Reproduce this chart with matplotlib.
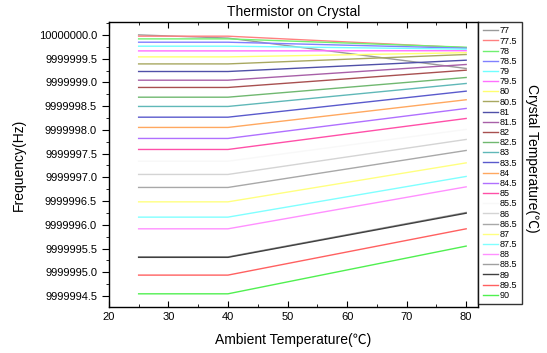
import matplotlib
matplotlib.use('Agg')
import matplotlib.pyplot as plt
from matplotlib.ticker import FormatStrFormatter, MultipleLocator

plt.rcParams['font.family'] = ['Liberation Sans', 'Noto Sans CJK SC', 'DejaVu Sans']

# ambient temperature points (deg C)
ambient = [25, 40, 80]

# crystal set temperatures (legend)
crystal = ['77', '77.5', '78', '78.5', '79', '79.5', '80', '80.5', '81', '81.5',
           '82', '82.5', '83', '83.5', '84', '84.5', '85', '85.5', '86', '86.5',
           '87', '87.5', '88', '88.5', '89', '89.5', '90']

# frequency (Hz) at each ambient point, one row per crystal temperature
freq = [
    [10000000.000, 9999999.933, 9999999.293],
    [9999999.973, 9999999.973, 9999999.730],
    [9999999.916, 9999999.916, 9999999.740],
    [9999999.846, 9999999.846, 9999999.720],
    [9999999.762, 9999999.762, 9999999.700],
    [9999999.663, 9999999.663, 9999999.667],
    [9999999.537, 9999999.537, 9999999.625],
    [9999999.389, 9999999.389, 9999999.587],
    [9999999.229, 9999999.229, 9999999.467],
    [9999999.046, 9999999.046, 9999999.377],
    [9999998.893, 9999998.893, 9999999.257],
    [9999998.688, 9999998.688, 9999999.103],
    [9999998.493, 9999998.493, 9999998.977],
    [9999998.267, 9999998.267, 9999998.815],
    [9999998.051, 9999998.051, 9999998.634],
    [9999997.819, 9999997.819, 9999998.451],
    [9999997.587, 9999997.587, 9999998.240],
    [9999997.340, 9999997.340, 9999998.010],
    [9999997.061, 9999997.061, 9999997.798],
    [9999996.787, 9999996.787, 9999997.566],
    [9999996.484, 9999996.484, 9999997.305],
    [9999996.162, 9999996.162, 9999997.019],
    [9999995.916, 9999995.916, 9999996.800],
    [9999995.325, 9999995.325, 9999996.260],
    [9999995.315, 9999995.315, 9999996.245],
    [9999994.941, 9999994.941, 9999995.916],
    [9999994.547, 9999994.547, 9999995.552],
]

colors = ['#9a9a9a', '#ff8080', '#70f070', '#8080ff', '#70ffff', '#ff70ff',
          '#ffff70', '#a8a860', '#5050a8', '#a860a8', '#a85050', '#70b870',
          '#60b8b8', '#5a5acc', '#ffa860', '#b070ff', '#ff50a8', '#f8f8f8',
          '#d4d4d4', '#a8a8a8', '#ffff80', '#80ffff', '#ff90ff', '#a0a0a0',
          '#404040', '#ff6060', '#50f050']

fig = plt.figure(figsize=(5.47, 3.53), dpi=100)
ax = fig.add_axes([0.199, 0.130, 0.675, 0.808])

for lab, f, c in zip(crystal, freq, colors):
    ax.plot(ambient, f, color=c, lw=1.0, label=lab)

ax.set_xlim(20, 82)
ax.set_ylim(9999994.267, 10000000.274)
ax.yaxis.set_major_locator(MultipleLocator(0.5))
ax.yaxis.set_minor_locator(MultipleLocator(0.25))
ax.yaxis.set_major_formatter(FormatStrFormatter('%.1f'))
ax.xaxis.set_major_locator(MultipleLocator(10))
ax.xaxis.set_minor_locator(MultipleLocator(5))
ax.tick_params(axis='x', which='both', direction='in', top=True, labelsize=8)
ax.tick_params(axis='x', which='major', length=4)
ax.tick_params(axis='x', which='minor', length=2)
ax.tick_params(axis='y', which='both', direction='out', labelsize=8)
ax.tick_params(axis='y', which='major', length=5)
ax.tick_params(axis='y', which='minor', length=2.5)
for s in ax.spines.values():
    s.set_linewidth(1.0)

ax.set_title('Thermistor on Crystal', fontsize=10, pad=4)
ax.set_xlabel('Ambient Temperature(℃)', fontsize=10, labelpad=8)
ax.set_ylabel('Frequency(Hz)', fontsize=10, labelpad=9)

leg = ax.legend(loc='upper left', bbox_to_anchor=(1.0, 1.0), borderaxespad=0,
                fontsize=6.5, labelspacing=0.13, handlelength=1.7, handletextpad=0.2,
                frameon=True, fancybox=False, borderpad=0.5)
leg.get_frame().set_edgecolor('black')
leg.get_frame().set_linewidth(1.0)

fig.text(0.972, 0.552, 'Crystal Temperature(℃)', rotation=270, fontsize=10,
         ha='center', va='center')

fig.savefig('out.png', dpi=100)
